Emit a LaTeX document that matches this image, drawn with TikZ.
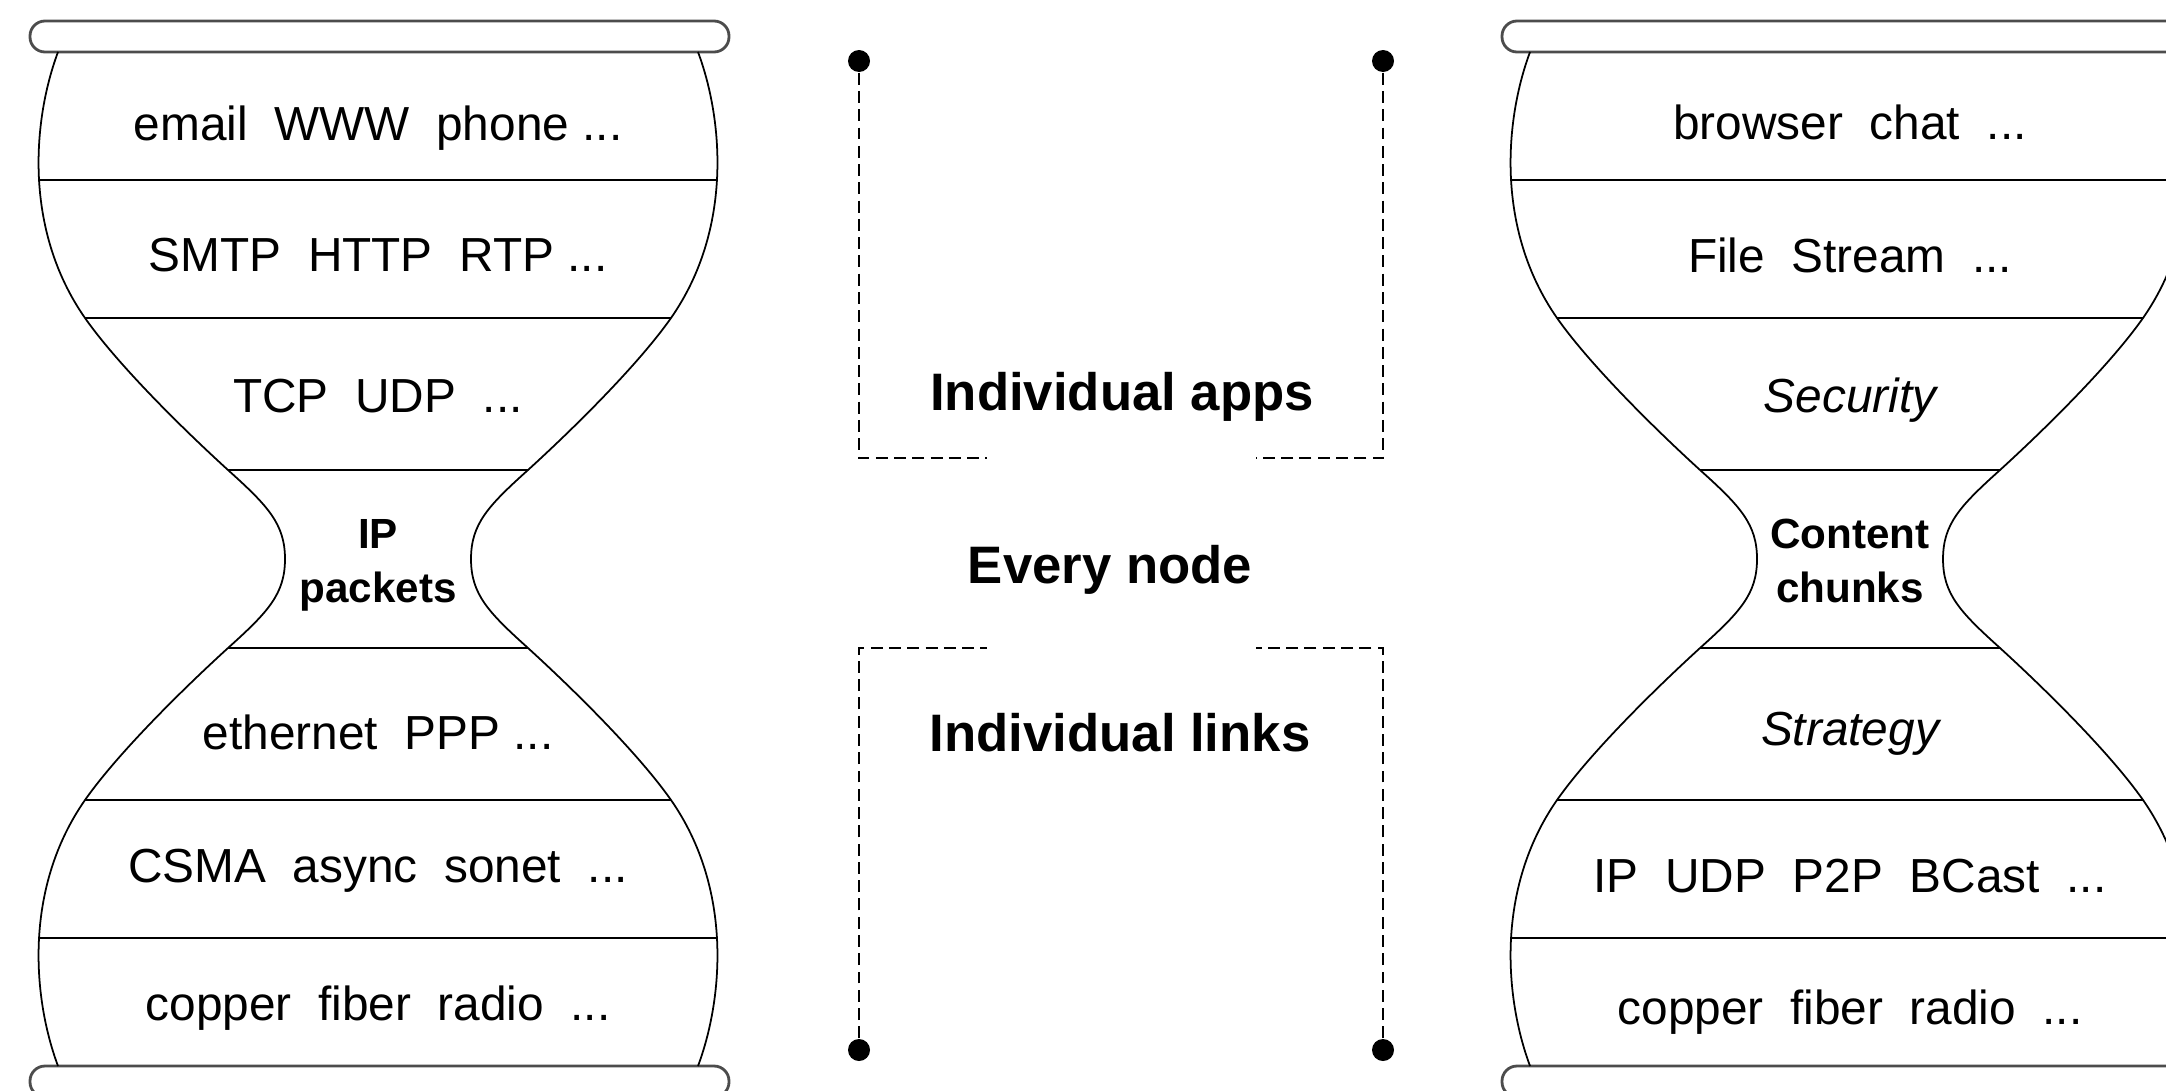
\documentclass[tikz,border=0pt]{standalone}
\usepackage{fontspec}
\setmainfont{Liberation Sans}
\usepackage{tikz}

\begin{document}
\begin{tikzpicture}
	\tikzstyle{layer}=[font=\fontsize{13.6}{16}\selectfont]
	\tikzstyle{waist}=[font=\bfseries\fontsize{12}{15.4}\selectfont, align=center]
	\tikzstyle{reach}=[font=\bfseries\fontsize{15}{18}\selectfont]
	\tikzstyle{pin}=[circle, fill=black, inner sep=0pt, minimum size=0.22cm]
	\tikzstyle{rim}=[draw=black!70, line width=0.8pt, rounded corners=0.15cm]
	\tikzstyle{outline}=[line width=0.5pt]
	\tikzstyle{divider}=[line width=0.7pt]
	\tikzstyle{bracket}=[line width=0.6pt, dash pattern=on 3.4pt off 1.8pt]

	\clip (0,0) rectangle (21.66,10.90);

	% both hourglasses
	\foreach \cx in {3.78, 18.50} {
		\begin{scope}[shift={(\cx,5.31)}]
			\draw[rim] (-3.48,5.07) rectangle (3.51,5.38);
			\draw[rim] (-3.48,-5.07) rectangle (3.51,-5.38);
			\foreach \sx in {-1,1}
				\foreach \sy in {-1,1}
					\draw[outline, xscale=\sx, yscale=\sy] (3.20,5.07)
						.. controls (3.45,4.40) and (3.55,3.30) .. (2.93,2.41)
						.. controls (2.60,1.94) and (1.95,1.30) .. (1.50,0.89)
						.. controls (1.10,0.53) and (0.93,0.35) .. (0.93,0);
			\foreach \h/\y in {3.40/3.79, 2.93/2.41, 1.50/0.89, 1.50/-0.89, 2.93/-2.41, 3.40/-3.79}
				\draw[divider] (-\h,\y) -- (\h,\y);
		\end{scope}
	}

	% internet layers
	\node[layer] (email) at (3.78,9.62) {email~~WWW~~phone ...};
	\node[layer] (smtp) at (3.78,8.35) {SMTP~~HTTP~~RTP ...};
	\node[layer] (tcp) at (3.78,6.94) {TCP~~UDP~~...};
	\node[waist] (ip) at (3.78,5.25) {IP\\packets};
	\node[layer] (ethernet) at (3.78,3.58) {ethernet~~PPP ...};
	\node[layer] (csma) at (3.78,2.19) {CSMA~~async~~sonet~~...};
	\node[layer] (copper) at (3.78,0.82) {copper~~fiber~~radio~~...};

	% content layers
	\node[layer] (browser) at (18.50,9.68) {browser~~chat~~...};
	\node[layer] (file) at (18.50,8.35) {File~~Stream~~...};
	\node[layer, font=\itshape\fontsize{13.6}{16}\selectfont] (security) at (18.50,6.90) {Security};
	\node[waist] (content) at (18.50,5.29) {Content\\chunks};
	\node[layer, font=\itshape\fontsize{13.6}{16}\selectfont] (strategy) at (18.50,3.56) {Strategy};
	\node[layer] (bcast) at (18.50,2.14) {IP~~UDP~~P2P~~BCast~~...};
	\node[layer] (copper2) at (18.50,0.78) {copper~~fiber~~radio~~...};

	% scope brackets
	\node[reach] (apps) at (11.22,6.93) {Individual apps};
	\node[reach] (every) at (11.10,5.20) {Every node};
	\node[reach] (links) at (11.20,3.57) {Individual links};

	\node[pin] (tl) at (8.59,10.29) {};
	\node[pin] (tr) at (13.83,10.29) {};
	\node[pin] (bl) at (8.59,0.40) {};
	\node[pin] (br) at (13.83,0.40) {};

	\coordinate (tlc) at (8.59,6.32);
	\coordinate (tle) at (9.87,6.32);
	\coordinate (trc) at (13.83,6.32);
	\coordinate (tre) at (12.56,6.32);
	\coordinate (blc) at (8.59,4.42);
	\coordinate (ble) at (9.87,4.42);
	\coordinate (brc) at (13.83,4.42);
	\coordinate (bre) at (12.56,4.42);

	\draw[bracket] (tl) -- (tlc) -- (tle);
	\draw[bracket] (tr) -- (trc) -- (tre);
	\draw[bracket] (bl) -- (blc) -- (ble);
	\draw[bracket] (br) -- (brc) -- (bre);

\end{tikzpicture}
\end{document}
